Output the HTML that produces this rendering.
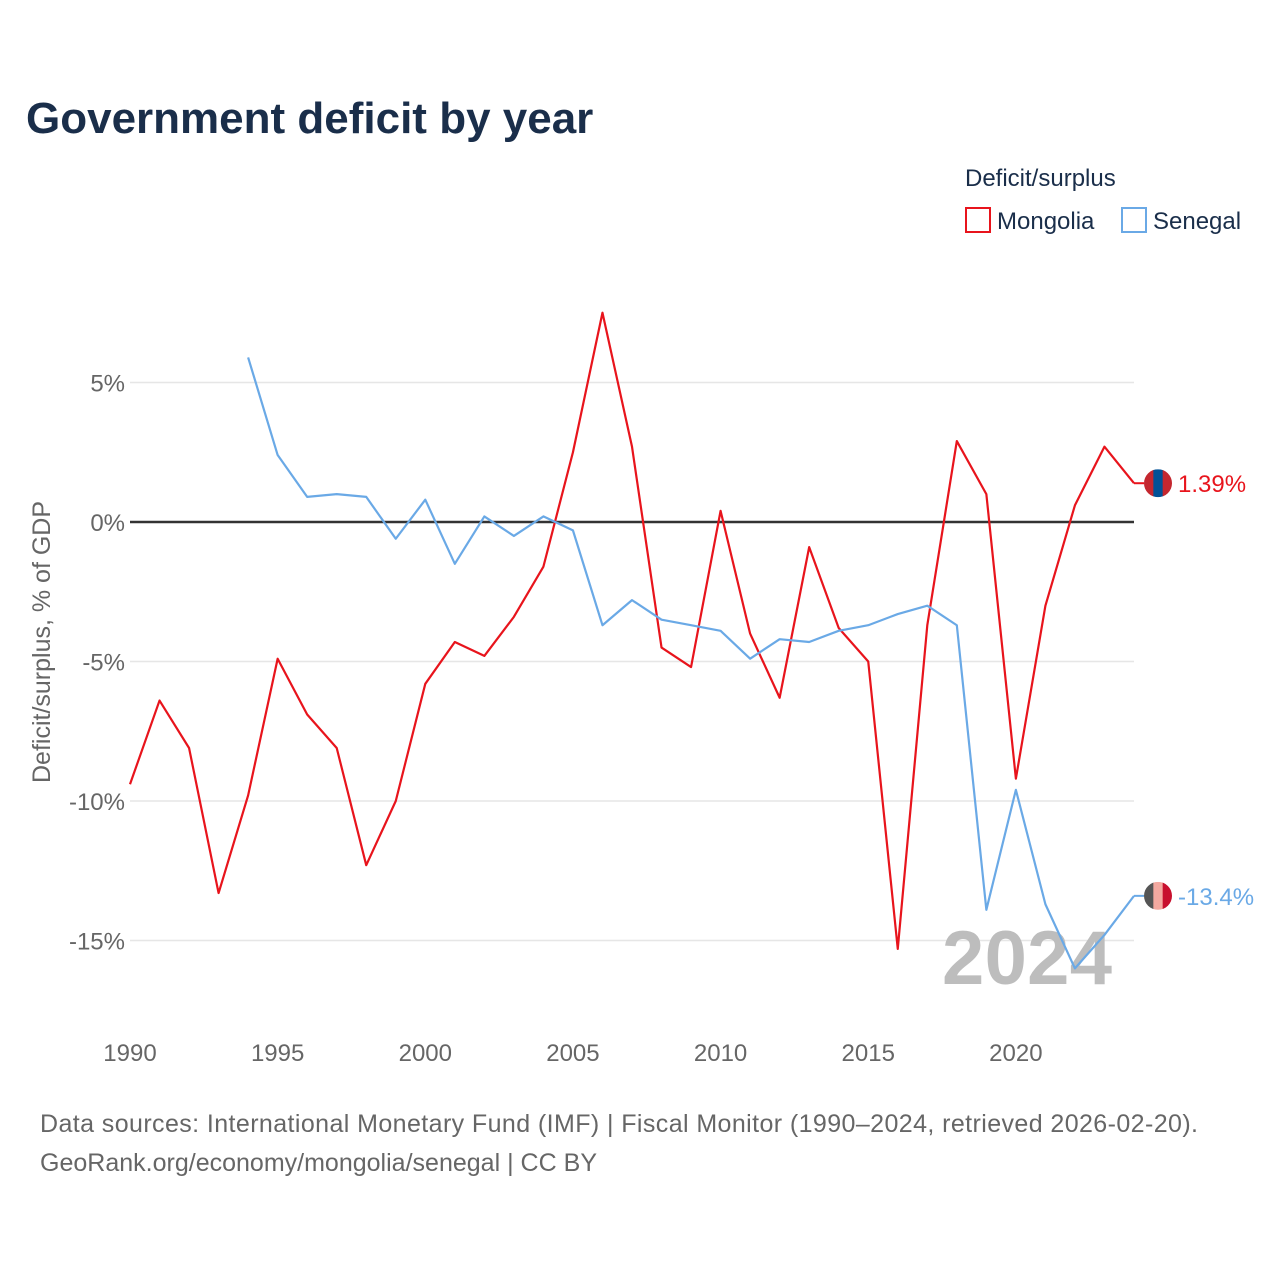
<!DOCTYPE html>
<html><head><meta charset="utf-8">
<style>
body{margin:0;background:#fff;font-family:"Liberation Sans",sans-serif;}
svg{display:block}
</style></head>
<body>
<svg id="chart" width="1280" height="1280" viewBox="0 0 1280 1280">
<text x="26" y="133" font-size="44" font-weight="bold" fill="#1a2e4a">Government deficit by year</text>
<g>
<text x="965" y="186" font-size="24" fill="#1a2e4a">Deficit/surplus</text>
<rect x="966" y="208" width="24" height="24" fill="none" stroke="#e8141c" stroke-width="2"/>
<text x="997" y="229" font-size="24" fill="#1a2e4a">Mongolia</text>
<rect x="1122" y="208" width="24" height="24" fill="none" stroke="#6aa9e6" stroke-width="2"/>
<text x="1153" y="229" font-size="24" fill="#1a2e4a">Senegal</text>
</g>
<g id="grid"></g>
<text x="1112" y="984" font-size="76" font-weight="bold" fill="#bdbdbd" text-anchor="end" textLength="170">2024</text>
<g id="series"></g>
<text transform="translate(50,642) rotate(-90)" font-size="25" fill="#666" text-anchor="middle">Deficit/surplus, % of GDP</text>
<text x="40" y="1132" font-size="25" fill="#666" textLength="1158">Data sources: International Monetary Fund (IMF) | Fiscal Monitor (1990–2024, retrieved 2026-02-20).</text>
<text x="40" y="1171" font-size="25" fill="#666" textLength="557">GeoRank.org/economy/mongolia/senegal | CC BY</text>
</svg>
<script>
const years=[1990,1991,1992,1993,1994,1995,1996,1997,1998,1999,2000,2001,2002,2003,2004,2005,2006,2007,2008,2009,2010,2011,2012,2013,2014,2015,2016,2017,2018,2019,2020,2021,2022,2023,2024];
const mongolia=[-9.4,-6.4,-8.1,-13.3,-9.8,-4.9,-6.9,-8.1,-12.3,-10.0,-5.8,-4.3,-4.8,-3.4,-1.6,2.5,7.5,2.7,-4.5,-5.2,0.4,-4.0,-6.3,-0.9,-3.8,-5.0,-15.3,-3.7,2.9,1.0,-9.2,-3.0,0.6,2.7,1.39];
const senegalYears=[1994,1995,1996,1997,1998,1999,2000,2001,2002,2003,2004,2005,2006,2007,2008,2009,2010,2011,2012,2013,2014,2015,2016,2017,2018,2019,2020,2021,2022,2023,2024];
const senegal=[5.9,2.4,0.9,1.0,0.9,-0.6,0.8,-1.5,0.2,-0.5,0.2,-0.3,-3.7,-2.8,-3.5,-3.7,-3.9,-4.9,-4.2,-4.3,-3.9,-3.7,-3.3,-3.0,-3.7,-13.9,-9.6,-13.7,-16.0,-14.8,-13.4];
const yTicks=[5,0,-5,-10,-15];
const yTickLabels=["5%","0%","-5%","-10%","-15%"];
const xTicks=[1990,1995,2000,2005,2010,2015,2020];
const NS="http://www.w3.org/2000/svg";
const x=v=>130+(v-1990)*(1134-130)/34;
const y=v=>522-v*27.9;
function mk(tag,attrs,parent){const e=document.createElementNS(NS,tag);for(const k in attrs)e.setAttribute(k,attrs[k]);parent.appendChild(e);return e;}
const grid=document.getElementById('grid');
yTicks.forEach((t,i)=>{
  const l=mk('line',{x1:130,x2:1134,y1:y(t),y2:y(t),stroke:t===0?'#333':'#e6e6e6','stroke-width':t===0?2.5:1.5},grid);
  
  
  const tx=mk('text',{x:125,y:y(t)+9,'font-size':24,fill:'#666','text-anchor':'end'},grid);
  tx.textContent=yTickLabels[i];
  
  
});
xTicks.forEach(t=>{
  const tx=mk('text',{x:x(t),y:1061,'font-size':24,fill:'#666','text-anchor':'middle'},grid);
  tx.textContent=t;
  
  
});
const ser=document.getElementById('series');
function line(xs,vs,color,name){
  const p=mk('polyline',{points:xs.map((yr,i)=>x(yr)+','+y(vs[i])).join(' '),fill:'none',stroke:color,'stroke-width':2.2,'stroke-linejoin':'round'},ser);
  
  
}
line(years,mongolia,'#e8141c','mongolia-line');
line(senegalYears,senegal,'#6aa9e6','senegal-line');
function endLabel(v,color,name,flag){
  const cy=y(v);
  const g=mk('g',{},ser);
  
  
  mk('line',{x1:1134,x2:1144,y1:cy,y2:cy,stroke:color,'stroke-width':2},g);
  const cp=mk('clipPath',{id:name+'clip'},g);
  mk('circle',{cx:1158,cy:cy,r:14},cp);
  const w=28/3;
  flag.forEach((c,i)=>mk('rect',{x:1144+i*w,y:cy-14,width:w+0.5,height:28,fill:c,'clip-path':'url(#'+name+'clip)'},g));
  const t=mk('text',{x:1178,y:cy+9,'font-size':24,fill:color},ser);
  t.textContent=(name==='mongolia'?v.toFixed(2):v.toFixed(1))+'%';
  
  
}
endLabel(mongolia[mongolia.length-1],'#e8141c','mongolia',['#c4272f','#015197','#c4272f']);
endLabel(senegal[senegal.length-1],'#6aa9e6','senegal',['#555','#f4a9a0','#c8102e']);
</script>
</body></html>
